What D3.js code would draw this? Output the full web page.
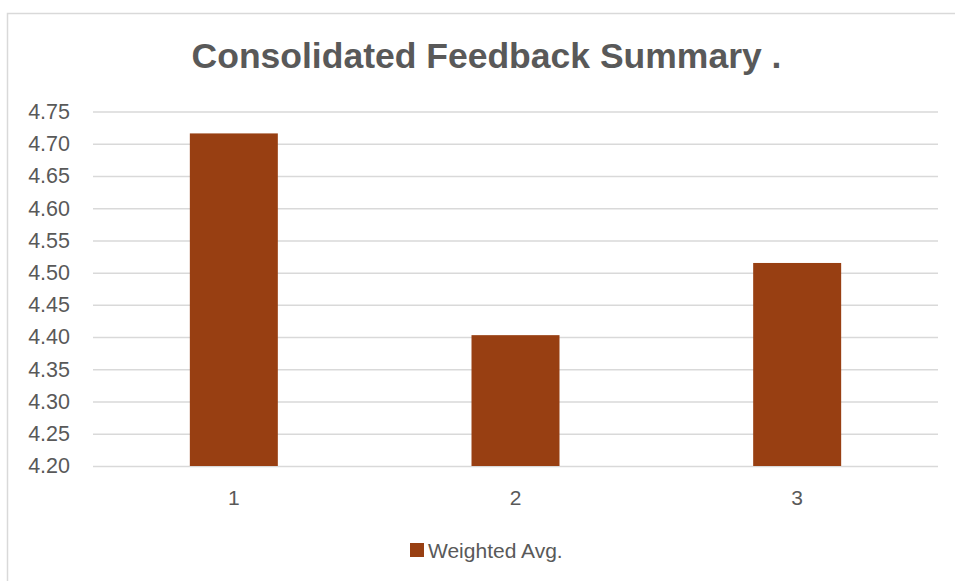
<!DOCTYPE html>
<html>
<head>
<meta charset="utf-8">
<script src="https://cdn.jsdelivr.net/npm/d3@7"></script>
<style>
  body { margin: 0; background: #fff; }
  text { font-family: "Liberation Sans", Arial, sans-serif; fill: #595959; }
</style>
</head>
<body>
<div id="container"></div>
<script>
const width = 955;
const height = 581;

const categories = ["1", "2", "3"];
const weightedAvg = [4.716, 4.403, 4.515];
const yTicks = [4.20, 4.25, 4.30, 4.35, 4.40, 4.45, 4.50, 4.55, 4.60, 4.65, 4.70, 4.75];
const seriesName = "Weighted Avg.";
const title = "Consolidated Feedback Summary .";

const barColor = "#983f12";
const gridColor = "#d9d9d9";

const plot = { left: 93, right: 938, top: 111.5, bottom: 466 };

let svg = d3.select("#container").append("svg")
    .attr("width", width)
    .attr("height", height)
    .attr("viewBox", `0 0 ${width} ${height}`);

// chart frame (only top and left edges are visible in the picture)
svg.append("path")
    .attr("d", `M7.5,${height} V13.5 H${width}`)
    .attr("fill", "none")
    .attr("stroke", gridColor)
    .attr("stroke-width", 1.5);

let x = d3.scaleBand()
    .domain(categories)
    .range([plot.left, plot.right])
    .paddingInner(0.6876)
    .paddingOuter(0.3438);

let y = d3.scaleLinear()
    .domain([4.20, 4.75])
    .range([plot.bottom, plot.top]);

// gridlines + y labels
let yAxis = svg.append("g")
    .attr("transform", `translate(${plot.left},0)`)
    .call(d3.axisLeft(y)
        .tickValues(yTicks)
        .tickFormat(d3.format(".2f"))
        .tickSize(-(plot.right - plot.left))
        .tickPadding(23));

yAxis.select(".domain").remove();
yAxis.selectAll(".tick line")
    .attr("stroke", gridColor)
    .attr("stroke-width", 1.5);
yAxis.selectAll(".tick text")
    .attr("font-size", 21.5)
    .attr("fill", "#595959")
    .style("font-family", "Liberation Sans, Arial, sans-serif");

// bars
svg.append("g")
    .selectAll("rect")
    .data(weightedAvg)
    .join("rect")
    .attr("x", (d, i) => x(categories[i]))
    .attr("y", d => y(d))
    .attr("width", x.bandwidth())
    .attr("height", d => y(4.20) - y(d))
    .attr("fill", barColor);

// x labels
let xAxis = svg.append("g")
    .attr("transform", `translate(0,${plot.bottom})`)
    .call(d3.axisBottom(x).tickSize(0).tickPadding(24));

xAxis.select(".domain").remove();
xAxis.selectAll(".tick text")
    .attr("font-size", 21)
    .attr("fill", "#595959")
    .style("font-family", "Liberation Sans, Arial, sans-serif");

// title
svg.append("text")
    .attr("x", 486.5)
    .attr("y", 68)
    .attr("text-anchor", "middle")
    .attr("font-size", 35.5)
    .attr("font-weight", "bold")
    .text(title);

// legend
let legend = svg.append("g").attr("transform", "translate(410,543)");
legend.append("rect")
    .attr("width", 14)
    .attr("height", 14)
    .attr("fill", barColor);
legend.append("text")
    .attr("x", 18)
    .attr("y", 14.5)
    .attr("font-size", 21)
    .text(seriesName);
</script>
</body>
</html>
